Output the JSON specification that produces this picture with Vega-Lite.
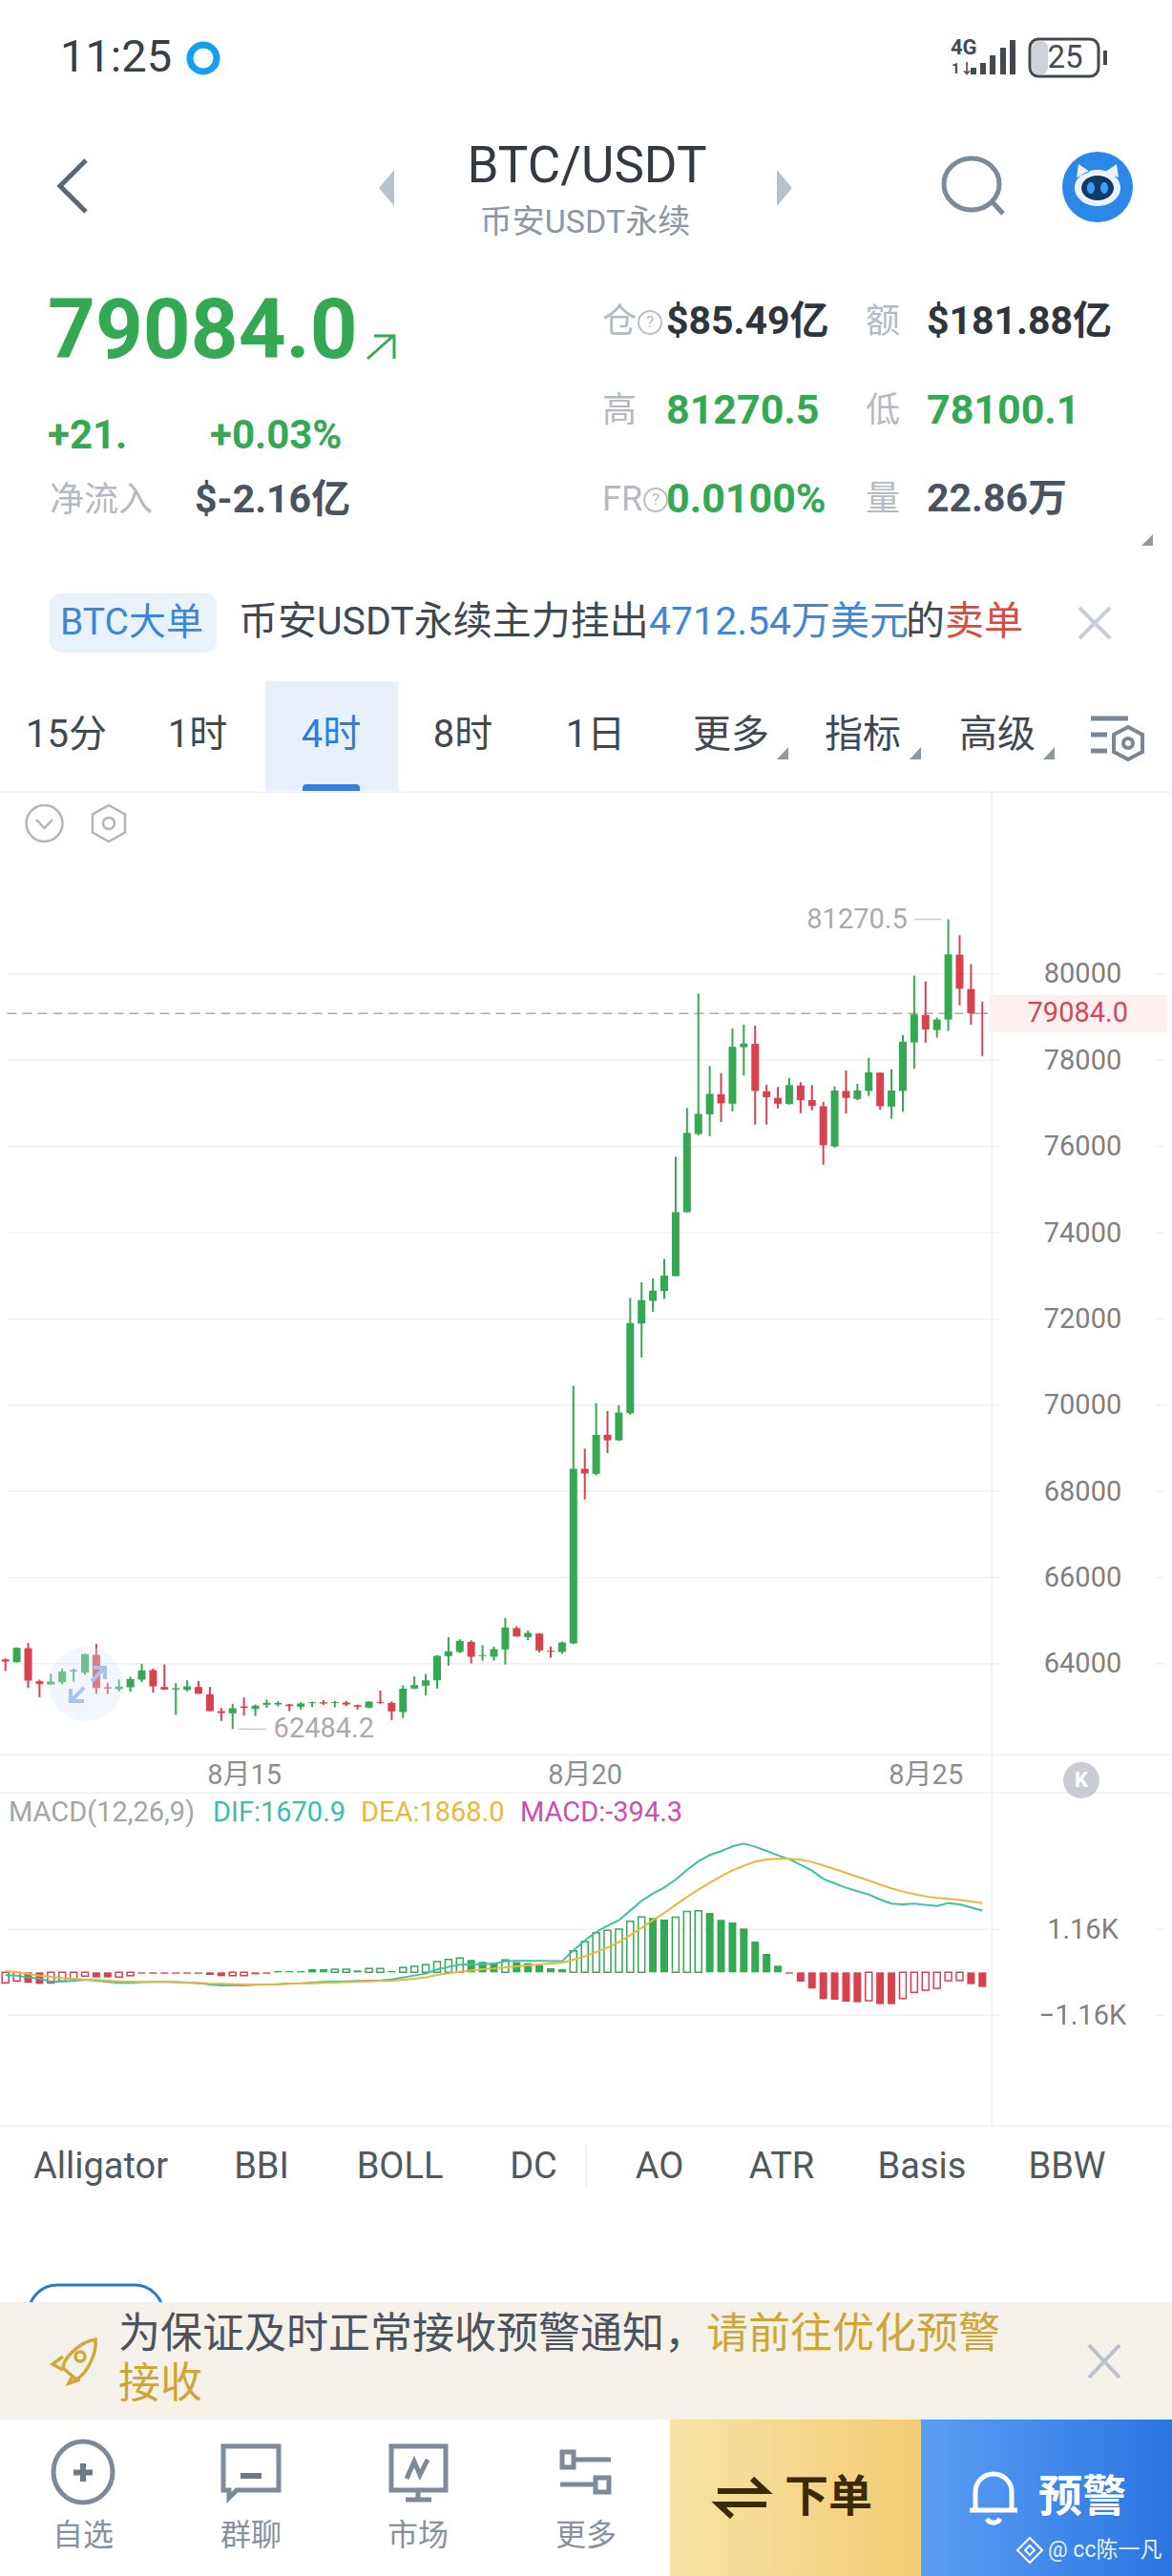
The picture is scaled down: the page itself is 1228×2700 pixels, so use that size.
{"$schema":"https://vega.github.io/schema/vega-lite/v6.json","width":1228,"height":2700,"autosize":{"type":"fit","contains":"padding"},"padding":0,"background":"#ffffff",
"config":{"view":{"stroke":null},"text":{"font":"Roboto, 'Noto Sans CJK SC'","align":"left","baseline":"middle"},"point":{"opacity":1,"size":4,"filled":false}},
"datasets":{"k":[
{"i":0,"open":64103,"high":64125,"low":63830,"close":64051,"dif":-69,"dea":34,"macd":-284,"body":"open"},
{"i":1,"open":64037,"high":64383,"low":64029,"close":64369,"dif":-86,"dea":0,"macd":-232,"body":"open"},
{"i":2,"open":64361,"high":64479,"low":63439,"close":63609,"dif":-137,"dea":-43,"macd":-284,"body":"solid"},
{"i":3,"open":63594,"high":63631,"low":63225,"close":63528,"dif":-172,"dea":-86,"macd":-309,"body":"solid"},
{"i":4,"open":63520,"high":63764,"low":63513,"close":63587,"dif":-249,"dea":-120,"macd":-284,"body":"open"},
{"i":5,"open":63572,"high":63889,"low":63520,"close":63823,"dif":-249,"dea":-155,"macd":-232,"body":"open"},
{"i":6,"open":63823,"high":63882,"low":63587,"close":63852,"dif":-223,"dea":-172,"macd":-180,"body":"open"},
{"i":7,"open":63793,"high":64236,"low":63749,"close":64221,"dif":-198,"dea":-189,"macd":-103,"body":"open"},
{"i":8,"open":64206,"high":64457,"low":63306,"close":63439,"dif":-223,"dea":-206,"macd":-137,"body":"solid"},
{"i":9,"open":63454,"high":63557,"low":63299,"close":63424,"dif":-258,"dea":-223,"macd":-137,"body":"solid"},
{"i":10,"open":63410,"high":63631,"low":63358,"close":63469,"dif":-284,"dea":-241,"macd":-129,"body":"open"},
{"i":11,"open":63454,"high":63697,"low":63350,"close":63646,"dif":-284,"dea":-249,"macd":-86,"body":"open"},
{"i":12,"open":63631,"high":64000,"low":63572,"close":63845,"dif":-266,"dea":-258,"macd":-35,"body":"solid"},
{"i":13,"open":63852,"high":63889,"low":63328,"close":63476,"dif":-258,"dea":-258,"macd":-35,"body":"solid"},
{"i":14,"open":63461,"high":63985,"low":63395,"close":63402,"dif":-258,"dea":-258,"macd":-35,"body":"solid"},
{"i":15,"open":63402,"high":63550,"low":62812,"close":63432,"dif":-266,"dea":-266,"macd":-35,"body":"solid"},
{"i":16,"open":63395,"high":63616,"low":63358,"close":63476,"dif":-275,"dea":-275,"macd":-35,"body":"solid"},
{"i":17,"open":63461,"high":63601,"low":63299,"close":63306,"dif":-292,"dea":-284,"macd":-35,"body":"solid"},
{"i":18,"open":63291,"high":63461,"low":62893,"close":62900,"dif":-327,"dea":-301,"macd":-69,"body":"solid"},
{"i":19,"open":62900,"high":62974,"low":62672,"close":62856,"dif":-352,"dea":-309,"macd":-103,"body":"solid"},
{"i":20,"open":62849,"high":63070,"low":62484.2,"close":62967,"dif":-352,"dea":-318,"macd":-86,"body":"open"},
{"i":21,"open":63011,"high":63218,"low":62797,"close":62974,"dif":-352,"dea":-327,"macd":-86,"body":"open"},
{"i":22,"open":62952,"high":63055,"low":62790,"close":63026,"dif":-335,"dea":-327,"macd":-52,"body":"solid"},
{"i":23,"open":63048,"high":63173,"low":62974,"close":63092,"dif":-327,"dea":-327,"macd":-35,"body":"solid"},
{"i":24,"open":63055,"high":63129,"low":63011,"close":63092,"dif":-318,"dea":-318,"macd":35,"body":"solid"},
{"i":25,"open":63055,"high":63070,"low":62900,"close":63018,"dif":-301,"dea":-309,"macd":35,"body":"solid"},
{"i":26,"open":63004,"high":63107,"low":62937,"close":63078,"dif":-292,"dea":-301,"macd":35,"body":"solid"},
{"i":27,"open":63085,"high":63122,"low":62996,"close":63107,"dif":-275,"dea":-292,"macd":86,"body":"solid"},
{"i":28,"open":63107,"high":63151,"low":63048,"close":63078,"dif":-258,"dea":-284,"macd":86,"body":"solid"},
{"i":29,"open":63092,"high":63137,"low":62989,"close":63114,"dif":-249,"dea":-275,"macd":86,"body":"open"},
{"i":30,"open":63100,"high":63137,"low":63018,"close":63055,"dif":-241,"dea":-266,"macd":86,"body":"open"},
{"i":31,"open":63041,"high":63055,"low":62937,"close":63004,"dif":-232,"dea":-258,"macd":52,"body":"solid"},
{"i":32,"open":62982,"high":63129,"low":62967,"close":63122,"dif":-223,"dea":-241,"macd":103,"body":"open"},
{"i":33,"open":63114,"high":63380,"low":63063,"close":63092,"dif":-215,"dea":-232,"macd":103,"body":"open"},
{"i":34,"open":63092,"high":63129,"low":62694,"close":62893,"dif":-189,"dea":-223,"macd":34,"body":"solid"},
{"i":35,"open":62879,"high":63498,"low":62738,"close":63424,"dif":-137,"dea":-198,"macd":129,"body":"open"},
{"i":36,"open":63424,"high":63705,"low":63410,"close":63505,"dif":-86,"dea":-172,"macd":163,"body":"open"},
{"i":37,"open":63491,"high":63764,"low":63269,"close":63616,"dif":-34,"dea":-137,"macd":206,"body":"open"},
{"i":38,"open":63616,"high":64199,"low":63424,"close":64184,"dif":77,"dea":-69,"macd":292,"body":"open"},
{"i":39,"open":64177,"high":64619,"low":63955,"close":64287,"dif":146,"dea":-26,"macd":352,"body":"open"},
{"i":40,"open":64273,"high":64568,"low":64250,"close":64531,"dif":206,"dea":17,"macd":387,"body":"open"},
{"i":41,"open":64509,"high":64546,"low":64007,"close":64162,"dif":215,"dea":52,"macd":335,"body":"solid"},
{"i":42,"open":64177,"high":64428,"low":64073,"close":64199,"dif":223,"dea":86,"macd":284,"body":"solid"},
{"i":43,"open":64162,"high":64398,"low":64073,"close":64339,"dif":232,"dea":103,"macd":258,"body":"solid"},
{"i":44,"open":64332,"high":65062,"low":63985,"close":64841,"dif":301,"dea":137,"macd":335,"body":"open"},
{"i":45,"open":64826,"high":64870,"low":64627,"close":64634,"dif":309,"dea":163,"macd":275,"body":"solid"},
{"i":46,"open":64619,"high":64767,"low":64546,"close":64715,"dif":309,"dea":189,"macd":249,"body":"solid"},
{"i":47,"open":64700,"high":64708,"low":64265,"close":64310,"dif":309,"dea":215,"macd":189,"body":"solid"},
{"i":48,"open":64302,"high":64398,"low":64140,"close":64280,"dif":301,"dea":241,"macd":112,"body":"solid"},
{"i":49,"open":64273,"high":64516,"low":64228,"close":64494,"dif":301,"dea":258,"macd":86,"body":"solid"},
{"i":50,"open":64472,"high":70446,"low":64457,"close":68524,"dif":593,"dea":344,"macd":584,"body":"open"},
{"i":51,"open":68524,"high":68990,"low":67812,"close":68414,"dif":859,"dea":430,"macd":833,"body":"open"},
{"i":52,"open":68405,"high":70048,"low":68371,"close":69311,"dif":1091,"dea":550,"macd":1074,"body":"open"},
{"i":53,"open":69311,"high":69862,"low":68888,"close":69184,"dif":1263,"dea":670,"macd":1134,"body":"open"},
{"i":54,"open":69184,"high":69997,"low":69167,"close":69828,"dif":1409,"dea":816,"macd":1169,"body":"open"},
{"i":55,"open":69811,"high":72487,"low":69777,"close":71903,"dif":1667,"dea":1005,"macd":1383,"body":"open"},
{"i":56,"open":71894,"high":72851,"low":71107,"close":72436,"dif":1933,"dea":1203,"macd":1495,"body":"open"},
{"i":57,"open":72419,"high":72936,"low":72165,"close":72657,"dif":2131,"dea":1409,"macd":1470,"body":"solid"},
{"i":58,"open":72648,"high":73393,"low":72462,"close":73004,"dif":2294,"dea":1607,"macd":1426,"body":"solid"},
{"i":59,"open":72995,"high":75765,"low":72987,"close":74477,"dif":2509,"dea":1822,"macd":1487,"body":"open"},
{"i":60,"open":74477,"high":76891,"low":74469,"close":76315,"dif":2767,"dea":2037,"macd":1642,"body":"open"},
{"i":61,"open":76290,"high":79550,"low":76256,"close":76756,"dif":2999,"dea":2234,"macd":1667,"body":"open"},
{"i":62,"open":76747,"high":77865,"low":76239,"close":77221,"dif":3171,"dea":2423,"macd":1607,"body":"solid"},
{"i":63,"open":77213,"high":77704,"low":76569,"close":77001,"dif":3274,"dea":2595,"macd":1418,"body":"solid"},
{"i":64,"open":76993,"high":78737,"low":76815,"close":78314,"dif":3403,"dea":2758,"macd":1349,"body":"solid"},
{"i":65,"open":78305,"high":78830,"low":77645,"close":78390,"dif":3480,"dea":2879,"macd":1186,"body":"solid"},
{"i":66,"open":78382,"high":78805,"low":76510,"close":77289,"dif":3394,"dea":2990,"macd":834,"body":"solid"},
{"i":67,"open":77281,"high":77433,"low":76510,"close":77145,"dif":3283,"dea":3051,"macd":498,"body":"solid"},
{"i":68,"open":77128,"high":77382,"low":76883,"close":76993,"dif":3162,"dea":3068,"macd":180,"body":"solid"},
{"i":69,"open":76984,"high":77586,"low":76976,"close":77425,"dif":3059,"dea":3068,"macd":-35,"body":"solid"},
{"i":70,"open":77416,"high":77492,"low":76773,"close":77077,"dif":2904,"dea":3042,"macd":-249,"body":"solid"},
{"i":71,"open":77077,"high":77425,"low":76840,"close":76942,"dif":2750,"dea":2982,"macd":-438,"body":"solid"},
{"i":72,"open":76933,"high":77035,"low":75578,"close":76027,"dif":2526,"dea":2887,"macd":-722,"body":"solid"},
{"i":73,"open":76002,"high":77391,"low":75976,"close":77298,"dif":2406,"dea":2793,"macd":-739,"body":"solid"},
{"i":74,"open":77289,"high":77763,"low":76764,"close":77128,"dif":2286,"dea":2690,"macd":-791,"body":"solid"},
{"i":75,"open":77103,"high":77458,"low":77077,"close":77298,"dif":2191,"dea":2587,"macd":-808,"body":"solid"},
{"i":76,"open":77289,"high":78051,"low":77171,"close":77721,"dif":2105,"dea":2483,"macd":-765,"body":"open"},
{"i":77,"open":77713,"high":77713,"low":76857,"close":76933,"dif":1968,"dea":2372,"macd":-859,"body":"solid"},
{"i":78,"open":76925,"high":77789,"low":76645,"close":77298,"dif":1856,"dea":2269,"macd":-859,"body":"solid"},
{"i":79,"open":77289,"high":78585,"low":76806,"close":78432,"dif":1839,"dea":2183,"macd":-705,"body":"open"},
{"i":80,"open":78414,"high":79964,"low":77802,"close":79064,"dif":1856,"dea":2114,"macd":-541,"body":"open"},
{"i":81,"open":79049,"high":79831,"low":78407,"close":78717,"dif":1822,"dea":2054,"macd":-481,"body":"open"},
{"i":82,"open":78702,"high":78990,"low":78525,"close":78945,"dif":1796,"dea":2011,"macd":-430,"body":"open"},
{"i":83,"open":78945,"high":81270.5,"low":78680,"close":80458,"dif":1873,"dea":1985,"macd":-223,"body":"open"},
{"i":84,"open":80450,"high":80900,"low":79277,"close":79661,"dif":1839,"dea":1959,"macd":-215,"body":"open"},
{"i":85,"open":79654,"high":80229,"low":78827,"close":79093,"dif":1753,"dea":1916,"macd":-318,"body":"solid"},
{"i":86,"open":79100,"high":79359,"low":78100.1,"close":79084,"dif":1670.9,"dea":1868,"macd":-394.3,"body":"solid"}
],
"grid":[{"price":64000},{"price":66000},{"price":68000},{"price":70000},{"price":72000},{"price":74000},{"price":76000},{"price":78000},{"price":80000}],
"macdGrid":[{"v":1160},{"v":-1160}],
"blank":[{"k":1}]},
"resolve":{"scale":{"y":"independent"},"axis":{"y":"independent"}},
"layer":[
{"data":{"name":"blank"},"layer":[
{"mark":{"type":"rect","x":278,"x2":417,"y":714,"y2":829,"fill":"#e8f1fb"},"encoding":{}},
{"mark":{"type":"rect","x":317,"x2":377,"y":822,"y2":829,"fill":"#3a7fdc","cornerRadiusTopLeft":5,"cornerRadiusTopRight":5},"encoding":{}},
{"mark":{"type":"rect","x":0,"x2":1228,"y":829.5,"y2":831,"fill":"#f0f0f0"},"encoding":{}},
{"mark":{"type":"rect","x":0,"x2":1228,"y":1838.5,"y2":1840,"fill":"#f0f0f0"},"encoding":{}},
{"mark":{"type":"rect","x":0,"x2":1228,"y":1878.5,"y2":1880,"fill":"#f0f0f0"},"encoding":{}},
{"mark":{"type":"rect","x":0,"x2":1228,"y":2227.5,"y2":2229,"fill":"#f0f0f0"},"encoding":{}},
{"mark":{"type":"rect","x":1038.5,"x2":1040,"y":830,"y2":2228,"fill":"#f0f0f0"},"encoding":{}}
]},
{"layer":[
{"data":{"values":[{"label":"79084.0"}]},"mark":{"type":"rect","fill":"#fdf0f0"},"encoding":{"x":{"datum":86.6,"type":"quantitative","axis":{"orient":"bottom","offset":-861,"values":[21,51,81],"labelExpr":"datum.value==21?'8月15':datum.value==51?'8月20':'8月25'","domain":false,"ticks":false,"grid":false,"title":null,"labelFont":"Roboto, 'Noto Sans CJK SC'","labelFontSize":29,"labelColor":"#8e8e8e","labelAlign":"center","labelBaseline":"middle","labelPadding":21,"labelOverlap":false,"labelBound":false,"labelFlush":false,"zindex":1},"scale":{"domain":[-0.058,102.275],"range":[0,1228],"zero":false,"nice":false}},"x2":{"datum":102.275},"y":{"datum":79513,"type":"quantitative","axis":{"orient":"right","offset":-94,"values":[64000,66000,68000,70000,72000,74000,76000,78000,80000],"format":"d","domain":false,"ticks":false,"grid":false,"title":null,"labelFont":"Roboto","labelFontSize":29,"labelColor":"#808080","labelAlign":"center","labelBaseline":"middle","labelPadding":0,"labelOverlap":false,"labelBound":false,"labelFlush":false,"zindex":1},"scale":{"domain":[62000,81500],"range":[1834.2,953.2],"zero":false,"nice":false}},"y2":{"datum":78650}}},
{"data":{"name":"grid"},"mark":{"type":"rule","stroke":"#f0f0f0","strokeWidth":1.5},"encoding":{"x":{"datum":0.15,"type":"quantitative"},"x2":{"datum":87.6},"y":{"field":"price","type":"quantitative"}}},
{"data":{"name":"grid"},"mark":{"type":"rule","stroke":"#f0f0f0","strokeWidth":1.5},"encoding":{"x":{"datum":101.2,"type":"quantitative"},"x2":{"datum":102.1},"y":{"field":"price","type":"quantitative"}}},
{"data":{"values":[{"price":79084}]},"mark":{"type":"rule","stroke":"#ababab","strokeWidth":1.5,"strokeDash":[10,6]},"encoding":{"x":{"datum":0.15,"type":"quantitative"},"x2":{"datum":86.5},"y":{"field":"price","type":"quantitative"}}},
{"data":{"name":"k"},"mark":{"type":"rule","strokeWidth":2},"encoding":{"x":{"field":"i","type":"quantitative"},"y":{"field":"high","type":"quantitative"},"y2":{"field":"low"},"stroke":{"condition":{"test":"datum.close>=datum.open","value":"#35a853"},"value":"#d9414f"}}},
{"data":{"name":"k"},"mark":{"type":"bar","size":8},"encoding":{"x":{"field":"i","type":"quantitative"},"y":{"field":"open","type":"quantitative"},"y2":{"field":"close"},"fill":{"condition":{"test":"datum.close>=datum.open","value":"#35a853"},"value":"#d9414f"}}},
{"data":{"values":[{"label":"79084.0","price":79084}]},"mark":{"type":"text","align":"center","fontSize":29,"font":"Roboto","fill":"#d64556"},"encoding":{"x":{"datum":94.4,"type":"quantitative"},"y":{"field":"price","type":"quantitative"},"text":{"field":"label"}}},
{"data":{"values":[{"label":"81270.5","price":81270.5}]},"mark":{"type":"rule","stroke":"#c8c8c8","strokeWidth":1.5},"encoding":{"x":{"datum":80,"type":"quantitative"},"x2":{"datum":82.4},"y":{"field":"price","type":"quantitative"}}},
{"data":{"values":[{"label":"81270.5","price":81270.5}]},"mark":{"type":"text","align":"right","fontSize":29,"font":"Roboto","fill":"#ababab"},"encoding":{"x":{"datum":79.4,"type":"quantitative"},"y":{"field":"price","type":"quantitative"},"text":{"field":"label"}}},
{"data":{"values":[{"label":"62484.2","price":62484.2}]},"mark":{"type":"rule","stroke":"#c8c8c8","strokeWidth":1.5},"encoding":{"x":{"datum":20.5,"type":"quantitative"},"x2":{"datum":23},"y":{"field":"price","type":"quantitative"}}},
{"data":{"values":[{"label":"62484.2","price":62484.2}]},"mark":{"type":"text","align":"left","fontSize":29,"font":"Roboto","fill":"#ababab"},"encoding":{"x":{"datum":23.6,"type":"quantitative"},"y":{"field":"price","type":"quantitative"},"text":{"field":"label"}}}
]},
{"layer":[
{"data":{"name":"macdGrid"},"mark":{"type":"rule","stroke":"#f0f0f0","strokeWidth":1.5},"encoding":{"x":{"datum":0.15,"type":"quantitative"},"x2":{"datum":87.6},"y":{"field":"v","type":"quantitative","scale":{"domain":[-1160,1160],"range":[2112.3,2022.3],"zero":false,"nice":false},"axis":{"orient":"right","offset":-94,"values":[1160,-1160],"labelExpr":"datum.value>0?'1.16K':'−1.16K'","domain":false,"ticks":false,"grid":false,"title":null,"labelFont":"Roboto","labelFontSize":29,"labelColor":"#808080","labelAlign":"center","labelBaseline":"middle","labelPadding":0,"labelOverlap":false,"labelBound":false,"labelFlush":false,"zindex":1}}}},
{"data":{"name":"macdGrid"},"mark":{"type":"rule","stroke":"#f0f0f0","strokeWidth":1.5},"encoding":{"x":{"datum":101.2,"type":"quantitative"},"x2":{"datum":102.1},"y":{"field":"v","type":"quantitative"}}},
{"data":{"name":"k"},"transform":[{"filter":"datum.body=='solid'"}],"mark":{"type":"bar","size":8},"encoding":{"x":{"field":"i","type":"quantitative"},"y":{"field":"macd","type":"quantitative","stack":null},"fill":{"condition":{"test":"datum.macd<0","value":"#d9414f"},"value":"#35a853"}}},
{"data":{"name":"k"},"transform":[{"filter":"datum.body=='open'"}],"mark":{"type":"bar","size":7,"fill":"#ffffff","strokeWidth":1.5},"encoding":{"x":{"field":"i","type":"quantitative"},"y":{"field":"macd","type":"quantitative","stack":null},"stroke":{"condition":{"test":"datum.macd<0","value":"#d9414f"},"value":"#35a853"}}},
{"data":{"name":"k"},"mark":{"type":"line","stroke":"#3dbfa8","strokeWidth":2},"encoding":{"x":{"field":"i","type":"quantitative"},"y":{"field":"dif","type":"quantitative"}}},
{"data":{"name":"k"},"mark":{"type":"line","stroke":"#e8b83a","strokeWidth":2},"encoding":{"x":{"field":"i","type":"quantitative"},"y":{"field":"dea","type":"quantitative"}}}
]},
{"data":{"name":"blank"},"layer":[
{"mark":{"type":"point","shape":"circle","size":6084,"x":90,"y":1765,"filled":true,"fill":"#dbe7fb","stroke":null,"opacity":0.35},"encoding":{}},
{"mark":{"type":"point","shape":"M98 1748H110V1760M110 1748L96 1762M74 1770L74 1783H88M74 1783L88 1769","x":0,"y":0,"stroke":"#a9c3ef","strokeWidth":4},"encoding":{}},
{"mark":{"type":"text","x":63,"y":61,"text":"11:25","fontSize":47,"fill":"#3a3f45"},"encoding":{}},
{"mark":{"type":"point","shape":"circle","size":784,"x":213,"y":61,"stroke":"#12a0ef","strokeWidth":7},"encoding":{}},
{"mark":{"type":"text","x":996,"y":50,"text":"4G","fontSize":22,"fontWeight":"bold","fill":"#444a50"},"encoding":{}},
{"mark":{"type":"text","x":997,"y":72,"text":"1↓","fontSize":15,"fontWeight":"bold","fill":"#444a50"},"encoding":{}},
{"mark":{"type":"point","shape":"M1020 78V71M1030 78V66M1040 78V58M1051 78V50M1061 78V42","x":0,"y":0,"stroke":"#444a50","strokeWidth":6},"encoding":{}},
{"mark":{"type":"rect","x":1081,"x2":1098,"y":43,"y2":78,"fill":"#cfd3d7","cornerRadius":7},"encoding":{}},
{"mark":{"type":"rect","x":1079,"x2":1151,"y":41,"y2":80,"cornerRadius":9,"fillOpacity":0,"stroke":"#444a50","strokeWidth":3},"encoding":{}},
{"mark":{"type":"text","x":1116,"y":61,"align":"center","text":"25","fontSize":33,"fill":"#444a50"},"encoding":{}},
{"mark":{"type":"point","shape":"M1158 53V68","x":0,"y":0,"stroke":"#444a50","strokeWidth":4},"encoding":{}},
{"mark":{"type":"point","shape":"M90 168L63 195L90 222","x":0,"y":0,"stroke":"#5c6775","strokeWidth":5},"encoding":{}},
{"mark":{"type":"point","shape":"M413 178L397 197L413 216ZM814 178L830 197L814 216Z","x":0,"y":0,"filled":true,"fill":"#b8c2cd","stroke":null},"encoding":{}},
{"mark":{"type":"text","x":615,"y":175,"align":"center","text":"BTC/USDT","fontSize":53,"fill":"#333a42"},"encoding":{}},
{"mark":{"type":"text","x":613,"y":234,"align":"center","text":"币安USDT永续","fontSize":34,"fill":"#8d97a3"},"encoding":{}},
{"mark":{"type":"point","shape":"M989 193a29 27 0 1 0 58 0a29 27 0 1 0 -58 0M1040 212L1051 224","x":0,"y":0,"stroke":"#7c8a99","strokeWidth":5},"encoding":{}},
{"mark":{"type":"point","shape":"circle","size":5476,"x":1150,"y":196,"filled":true,"fill":"#2b87e8","stroke":null},"encoding":{}},
{"mark":{"type":"point","shape":"M1126 197a24 19 0 1 0 48 0a24 19 0 1 0 -48 0ZM1128 186L1130 172L1142 180ZM1172 186L1170 172L1158 180Z","x":0,"y":0,"filled":true,"fill":"#eaf3fc","stroke":null},"encoding":{}},
{"mark":{"type":"point","shape":"M1133 197a17 13 0 1 0 34 0a17 13 0 1 0 -34 0Z","x":0,"y":0,"filled":true,"fill":"#123a66","stroke":null},"encoding":{}},
{"mark":{"type":"point","shape":"M1139 197a4 6 0 1 0 8 0a4 6 0 1 0 -8 0ZM1153 197a4 6 0 1 0 8 0a4 6 0 1 0 -8 0Z","x":0,"y":0,"filled":true,"fill":"#3d9cf5","stroke":null},"encoding":{}},
{"mark":{"type":"text","x":50,"y":349,"text":"79084.0","fontSize":87,"fontWeight":"bold","fill":"#34a853"},"encoding":{}},
{"mark":{"type":"point","shape":"M385 376L412 352M392 352H413V376","x":0,"y":0,"stroke":"#34a853","strokeWidth":3},"encoding":{}},
{"mark":{"type":"text","x":50,"y":457,"text":"+21.","fontSize":42,"fontWeight":"bold","fill":"#34a853"},"encoding":{}},
{"mark":{"type":"text","x":220,"y":457,"text":"+0.03%","fontSize":42,"fontWeight":"bold","fill":"#34a853"},"encoding":{}},
{"mark":{"type":"text","x":52,"y":525,"text":"净流入","fontSize":36,"fill":"#b3bac2"},"encoding":{}},
{"mark":{"type":"text","x":204,"y":525,"text":"$-2.16亿","fontSize":41,"fontWeight":"bold","fill":"#4a5360"},"encoding":{}},
{"mark":{"type":"text","x":631,"y":338,"text":"仓","fontSize":36,"fill":"#b3bac2"},"encoding":{}},
{"mark":{"type":"point","shape":"M669 338a12 12 0 1 0 24 0a12 12 0 1 0 -24 0M675 524a12 12 0 1 0 24 0a12 12 0 1 0 -24 0","x":0,"y":0,"stroke":"#b8bfc7","strokeWidth":2},"encoding":{}},
{"mark":{"type":"text","x":681,"y":338,"align":"center","text":"?","fontSize":17,"fill":"#b3bac2"},"encoding":{}},
{"mark":{"type":"text","x":687,"y":524,"align":"center","text":"?","fontSize":17,"fill":"#b3bac2"},"encoding":{}},
{"mark":{"type":"text","x":698,"y":338,"text":"$85.49亿","fontSize":41,"fontWeight":"bold","fill":"#2f353c"},"encoding":{}},
{"mark":{"type":"text","x":907,"y":338,"text":"额","fontSize":36,"fill":"#b3bac2"},"encoding":{}},
{"mark":{"type":"text","x":971,"y":338,"text":"$181.88亿","fontSize":41,"fontWeight":"bold","fill":"#2f353c"},"encoding":{}},
{"mark":{"type":"text","x":631,"y":431,"text":"高","fontSize":36,"fill":"#b3bac2"},"encoding":{}},
{"mark":{"type":"text","x":698,"y":431,"text":"81270.5","fontSize":43,"fontWeight":"bold","fill":"#34a853"},"encoding":{}},
{"mark":{"type":"text","x":907,"y":431,"text":"低","fontSize":36,"fill":"#b3bac2"},"encoding":{}},
{"mark":{"type":"text","x":971,"y":431,"text":"78100.1","fontSize":43,"fontWeight":"bold","fill":"#34a853"},"encoding":{}},
{"mark":{"type":"text","x":631,"y":524,"text":"FR","fontSize":36,"fill":"#b3bac2"},"encoding":{}},
{"mark":{"type":"text","x":698,"y":524,"text":"0.0100%","fontSize":43,"fontWeight":"bold","fill":"#34a853"},"encoding":{}},
{"mark":{"type":"text","x":907,"y":524,"text":"量","fontSize":36,"fill":"#b3bac2"},"encoding":{}},
{"mark":{"type":"text","x":971,"y":524,"text":"22.86万","fontSize":41,"fontWeight":"bold","fill":"#4a5360"},"encoding":{}},
{"mark":{"type":"point","shape":"M1208 560V572H1196ZM826 783V796H814ZM965 783V796H953ZM1105 783V796H1093Z","x":0,"y":0,"filled":true,"fill":"#8f98a3","stroke":null},"encoding":{}},
{"mark":{"type":"rect","x":52,"x2":227,"y":622,"y2":684,"fill":"#e9f2fb","cornerRadius":12},"encoding":{}},
{"mark":{"type":"text","x":63,"y":653,"text":"BTC大单","fontSize":39,"fill":"#3a86d8"},"encoding":{}},
{"mark":{"type":"text","x":250,"y":653,"text":"币安USDT永续主力挂出","fontSize":41,"fill":"#404852"},"encoding":{}},
{"mark":{"type":"text","x":680,"y":653,"text":"4712.54万美元","fontSize":41,"fill":"#3f87d6"},"encoding":{}},
{"mark":{"type":"text","x":949,"y":653,"text":"的","fontSize":41,"fill":"#404852"},"encoding":{}},
{"mark":{"type":"text","x":990,"y":653,"text":"卖单","fontSize":41,"fill":"#dd4a3c"},"encoding":{}},
{"mark":{"type":"point","shape":"M1131 637L1163 669M1163 637L1131 669","x":0,"y":0,"stroke":"#c8cfd6","strokeWidth":4},"encoding":{}},
{"mark":{"type":"text","x":27,"y":771,"text":"15分","fontSize":40,"fill":"#404852"},"encoding":{}},
{"mark":{"type":"text","x":207,"y":771,"align":"center","text":"1时","fontSize":40,"fill":"#404852"},"encoding":{}},
{"mark":{"type":"text","x":347,"y":771,"align":"center","text":"4时","fontSize":40,"fill":"#2a7fdc"},"encoding":{}},
{"mark":{"type":"text","x":485,"y":771,"align":"center","text":"8时","fontSize":40,"fill":"#404852"},"encoding":{}},
{"mark":{"type":"text","x":624,"y":771,"align":"center","text":"1日","fontSize":40,"fill":"#404852"},"encoding":{}},
{"mark":{"type":"text","x":766,"y":771,"align":"center","text":"更多","fontSize":40,"fill":"#404852"},"encoding":{}},
{"mark":{"type":"text","x":904,"y":771,"align":"center","text":"指标","fontSize":40,"fill":"#404852"},"encoding":{}},
{"mark":{"type":"text","x":1045,"y":771,"align":"center","text":"高级","fontSize":40,"fill":"#404852"},"encoding":{}},
{"mark":{"type":"point","shape":"M1143 753H1182M1143 770H1160M1143 787H1160","x":0,"y":0,"stroke":"#7c8794","strokeWidth":5},"encoding":{}},
{"mark":{"type":"point","shape":"M1182 762L1197 770V788L1182 796L1167 788V770ZM1177 779a5 5 0 1 0 10 0a5 5 0 1 0 -10 0","x":0,"y":0,"stroke":"#7c8794","strokeWidth":4},"encoding":{}},
{"mark":{"type":"point","shape":"M27.5 863a19 19 0 1 0 38 0a19 19 0 1 0 -38 0M38 859L46.5 868L55 859M114 844L131 853.500V872.500L114 882L97 872.500V853.500ZM108 863a6 6 0 1 0 12 0a6 6 0 1 0 -12 0","x":0,"y":0,"stroke":"#aeb6be","strokeWidth":2.5},"encoding":{}},
{"mark":{"type":"point","shape":"circle","size":1444,"x":1133,"y":1866,"filled":true,"fill":"#c9cdd3","stroke":null},"encoding":{}},
{"mark":{"type":"text","x":1133,"y":1866,"align":"center","text":"K","fontSize":22,"fontWeight":"bold","fill":"#ffffff"},"encoding":{}},
{"mark":{"type":"text","x":9,"y":1900,"text":"MACD(12,26,9)","fontSize":29,"fill":"#a5a5a5"},"encoding":{}},
{"mark":{"type":"text","x":223,"y":1900,"text":"DIF:1670.9","fontSize":29,"fill":"#3dbcab"},"encoding":{}},
{"mark":{"type":"text","x":378,"y":1900,"text":"DEA:1868.0","fontSize":29,"fill":"#e9b93c"},"encoding":{}},
{"mark":{"type":"text","x":545,"y":1900,"text":"MACD:-394.3","fontSize":29,"fill":"#c94fb0"},"encoding":{}},
{"mark":{"type":"text","x":35,"y":2272,"text":"Alligator","fontSize":38,"fill":"#505860"},"encoding":{}},
{"mark":{"type":"text","x":274,"y":2272,"align":"center","text":"BBI","fontSize":38,"fill":"#505860"},"encoding":{}},
{"mark":{"type":"text","x":419,"y":2272,"align":"center","text":"BOLL","fontSize":38,"fill":"#505860"},"encoding":{}},
{"mark":{"type":"text","x":559,"y":2272,"align":"center","text":"DC","fontSize":38,"fill":"#505860"},"encoding":{}},
{"mark":{"type":"point","shape":"M614 2248V2292","x":0,"y":0,"stroke":"#e6e8ea","strokeWidth":1.5},"encoding":{}},
{"mark":{"type":"text","x":691,"y":2272,"align":"center","text":"AO","fontSize":38,"fill":"#505860"},"encoding":{}},
{"mark":{"type":"text","x":819,"y":2272,"align":"center","text":"ATR","fontSize":38,"fill":"#505860"},"encoding":{}},
{"mark":{"type":"text","x":966,"y":2272,"align":"center","text":"Basis","fontSize":38,"fill":"#505860"},"encoding":{}},
{"mark":{"type":"text","x":1118,"y":2272,"align":"center","text":"BBW","fontSize":38,"fill":"#505860"},"encoding":{}},
{"mark":{"type":"rect","x":30,"x2":171,"y":2395,"y2":2460,"cornerRadius":30,"fillOpacity":0,"stroke":"#2a78d0","strokeWidth":3},"encoding":{}},
{"mark":{"type":"rect","x":0,"x2":1228,"y":2413,"y2":2536,"fill":"#f5f0e8"},"encoding":{}},
{"mark":{"type":"point","shape":"M100 2452C82 2455 66 2473 66 2482L80 2494C88 2490 102 2470 100 2452ZM79 2470a5 5 0 1 0 10 0a5 5 0 1 0 -10 0M66 2470L55 2478L66 2484M76 2490L72 2498L84 2494","x":0,"y":0,"stroke":"#cfa93c","strokeWidth":3.5},"encoding":{}},
{"mark":{"type":"text","x":124,"y":2448,"text":"为保证及时正常接收预警通知，","fontSize":44,"fill":"#4a5360"},"encoding":{}},
{"mark":{"type":"text","x":740,"y":2448,"text":"请前往优化预警","fontSize":44,"fill":"#cda63a"},"encoding":{}},
{"mark":{"type":"text","x":124,"y":2500,"text":"接收","fontSize":44,"fill":"#cda63a"},"encoding":{}},
{"mark":{"type":"point","shape":"M1141 2458L1173 2492M1173 2458L1141 2492","x":0,"y":0,"stroke":"#b8c2cc","strokeWidth":4},"encoding":{}},
{"mark":{"type":"rect","x":702,"x2":965,"y":2536,"y2":2700,"fill":{"gradient":"linear","x1":0,"x2":1,"y1":0,"y2":0,"stops":[{"offset":0,"color":"#f7e3a6"},{"offset":1,"color":"#f1cd74"}]}},"encoding":{}},
{"mark":{"type":"rect","x":965,"x2":1228,"y":2536,"y2":2700,"fill":{"gradient":"linear","x1":0,"x2":1,"y1":0,"y2":0,"stops":[{"offset":0,"color":"#5a9ef5"},{"offset":1,"color":"#2a75e0"}]}},"encoding":{}},
{"mark":{"type":"point","shape":"M752 2611H802L788 2598M803 2625H753L767 2638","x":0,"y":0,"stroke":"#3a2a05","strokeWidth":6},"encoding":{}},
{"mark":{"type":"text","x":822,"y":2618,"text":"下单","fontSize":46,"fontWeight":"bold","fill":"#3a2a05"},"encoding":{}},
{"mark":{"type":"point","shape":"M1022 2630V2612a19 19 0 0 1 38 0V2630M1016 2631H1066M1034 2640a8 8 0 0 0 14 0","x":0,"y":0,"stroke":"#ffffff","strokeWidth":5},"encoding":{}},
{"mark":{"type":"text","x":1088,"y":2618,"text":"预警","fontSize":46,"fontWeight":"bold","fill":"#ffffff"},"encoding":{}},
{"mark":{"type":"point","shape":"M1079 2660L1092 2673L1079 2686L1066 2673ZM1079 2668L1084 2673L1079 2678L1074 2673Z","x":0,"y":0,"stroke":"#ffffff","strokeWidth":2},"encoding":{}},
{"mark":{"type":"text","x":1098,"y":2673,"text":"@ cc陈一凡","fontSize":23,"fill":"#eaf2fd"},"encoding":{}},
{"mark":{"type":"point","shape":"M56 2591a31 32 0 1 0 62 0a31 32 0 1 0 -62 0M234 2564H292V2610H248L240 2618V2610H234ZM410 2564H467V2610H410ZM438 2610V2620M425 2620H452M426 2598L434 2580L440 2594L448 2578M589 2570H601V2586H589ZM601 2578H640M587 2604H624M624 2597H638V2612H624Z","x":0,"y":0,"stroke":"#7d8a9a","strokeWidth":5},"encoding":{}},
{"mark":{"type":"point","shape":"M87 2582V2601M77 2591.5H97M252 2595H274","x":0,"y":0,"stroke":"#6d7a8a","strokeWidth":6},"encoding":{}},
{"mark":{"type":"text","x":87,"y":2658,"align":"center","text":"自选","fontSize":32,"fill":"#8792a0"},"encoding":{}},
{"mark":{"type":"text","x":263,"y":2658,"align":"center","text":"群聊","fontSize":32,"fill":"#8792a0"},"encoding":{}},
{"mark":{"type":"text","x":438,"y":2658,"align":"center","text":"市场","fontSize":32,"fill":"#8792a0"},"encoding":{}},
{"mark":{"type":"text","x":614,"y":2658,"align":"center","text":"更多","fontSize":32,"fill":"#8792a0"},"encoding":{}}
]}
]}
